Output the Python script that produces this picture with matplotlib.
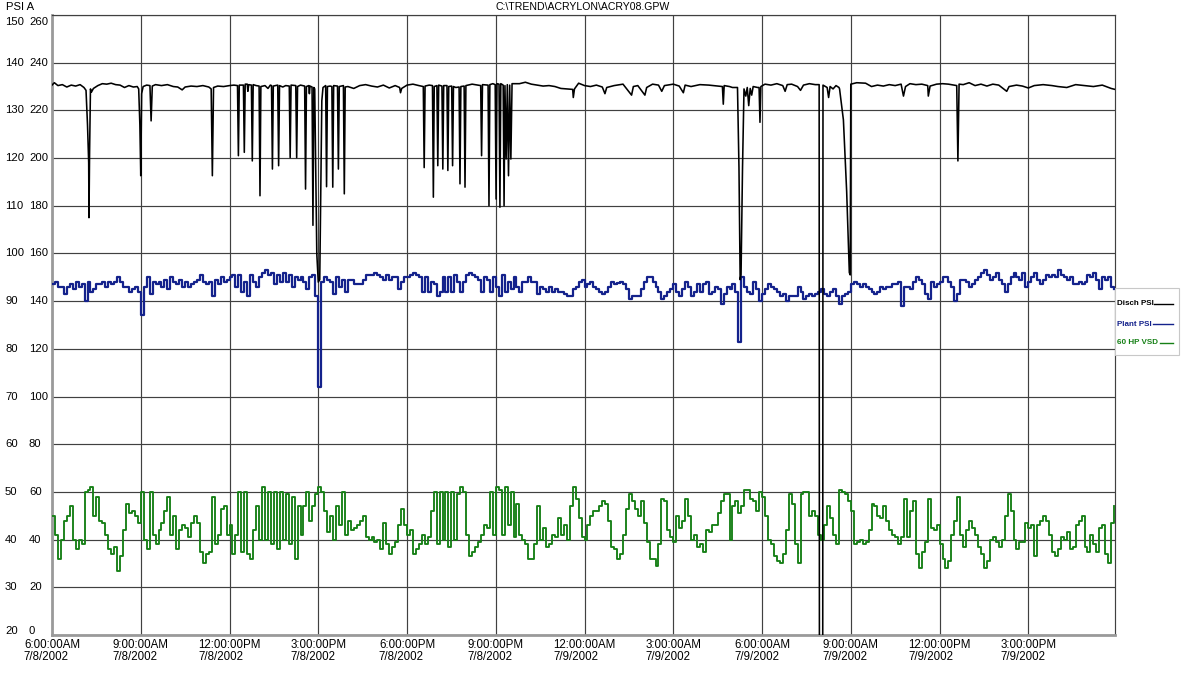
import matplotlib
matplotlib.use("Agg")
import matplotlib.pyplot as plt
import numpy as np
from matplotlib.lines import Line2D
from matplotlib.patches import Rectangle
from matplotlib.transforms import blended_transform_factory

plt.rcParams['font.family'] = ['Liberation Sans', 'DejaVu Sans']

# ---------------- data ----------------
SAMPLE_STEP_H = 0.1          # hours between samples (start 6:00 AM 7/8/2002)
SPAN_H = 35.93

vsd = [
    45, 41, 36, 40, 44, 45, 47, 40, 38, 40,
    39, 50, 50.5, 51, 45, 49, 44, 43.5, 41, 38,
    37, 38.5, 33.5, 36.5, 42, 47.5, 45.5, 46, 45, 43.5,
    50, 40, 38, 50, 41, 39, 42, 43.5, 46, 49,
    41, 45, 38, 42, 43, 42.5, 40.5, 43.5, 45, 43.5,
    37.5, 35, 37, 37.5, 49, 39, 41, 46.5, 47, 41,
    43, 37, 41, 50, 37.5, 50, 37, 36, 42, 47,
    40, 51, 40, 50, 39, 50, 38, 50, 40, 49.5,
    39, 49, 36, 47, 41, 47, 50, 44, 47, 49.5,
    51, 50, 46, 41.5, 45, 40, 47, 43, 50, 41,
    44, 42, 42.5, 43, 44, 45, 40.5, 40, 40.5, 39.5,
    40, 38, 43.5, 39, 37, 38.5, 39.5, 43, 46.5, 43,
    41, 42, 37, 38, 39, 41, 39, 40.5, 46, 50,
    39, 50, 40, 50, 38.5, 50, 40, 49.5, 51, 50,
    41, 36.5, 37.5, 38.5, 39.5, 41, 43, 42.5, 50, 41,
    51, 50.5, 41, 51, 43, 50, 40.5, 47.5, 41, 40,
    39, 36, 36, 39, 47, 40, 42.5, 38.5, 39, 41,
    40.5, 44.5, 41, 43, 40, 47, 51, 48.5, 44.5, 40.5,
    40, 43, 45, 46, 46, 47, 48, 47.5, 44, 38.5,
    38, 36, 37, 41, 46.5, 49.5, 48, 46.5, 45, 48,
    43.5, 39.5, 36, 36, 34.5, 39, 48.5, 48, 42, 40.5,
    39.5, 45, 42.5, 44, 48.5, 45, 40, 41, 38.5, 39,
    37.5, 42, 41.5, 43, 43, 45.5, 48, 49.5, 49.5, 40,
    47, 48, 45.5, 47, 50.5, 50.5, 48.5, 48, 46, 50,
    49, 45, 40, 39, 36.5, 35.5, 35, 37, 42, 49.5,
    47.5, 39, 35, 49.5, 50, 50, 45, 46, 45, 41,
    40, 43, 47, 44.5, 41, 39, 50.5, 50, 49.5, 48,
    46, 39, 39.5, 40, 39, 39.5, 42, 47.5, 47, 45,
    44.5, 47, 44, 42, 41, 40.5, 39, 40.5, 48.5, 40.5,
    46, 48, 37, 34, 37.5, 39.5, 48.5, 42.5, 42, 43,
    39, 36, 34, 35.5, 41, 44, 49, 41, 38.5, 42,
    44, 42.5, 41, 38.5, 37, 34, 35.5, 40, 40.5, 39.5,
    38.5, 40, 45, 49.5, 46, 40, 38, 39.5, 39.5, 43.5,
    42.5, 43, 36.5, 43, 44, 45, 44, 41, 37.5, 36.5,
    38, 40.5, 40, 41.5, 38, 38.5, 43, 44, 45, 38.5,
    37.5, 41, 39, 37.5, 42.5, 43, 37, 35, 43.5, 47,
]

plant = [
    93.5, 94, 93, 93, 91.5, 93, 93.5, 92.5, 94, 93,
    93.5, 90, 94, 92, 92.5, 93.5, 93.5, 94, 93, 94,
    93.5, 94, 95, 94, 93, 93, 92, 92.5, 93, 92,
    87, 93, 95, 91.5, 94, 93.5, 94, 93, 94.5, 92.5,
    95, 94, 93.5, 94.5, 93, 94, 93, 93.5, 94, 94.5,
    95.5, 94, 93.5, 94, 91, 94.5, 93.5, 95, 94, 94.5,
    95, 95.5, 93, 95.5, 92, 94, 91, 95.5, 94, 93,
    95, 96, 96.5, 95.5, 96, 93.5, 95.5, 94, 96, 94,
    95.5, 93, 95, 94.5, 95, 94, 92.5, 95, 95.5, 91,
    72, 94, 95, 94.5, 94, 91.5, 95, 93, 94.5, 92,
    94.5, 94.5, 93.5, 93.5, 93.5, 94.5, 95.5, 95.5, 95.5, 96,
    95.5, 95, 94.5, 95.5, 94.5, 95, 95, 92.5, 94, 95,
    95, 95.5, 96, 95.5, 95, 92, 95, 92, 94, 93.5,
    91, 92, 95, 92, 95, 92, 95.5, 94, 92, 94,
    95.5, 96, 95.5, 95, 94.5, 92, 95, 94.5, 92, 95,
    93, 91, 95.5, 92, 94, 92.5, 95, 93, 92, 94,
    94, 95, 94, 94, 91.5, 93, 92.5, 92, 93, 92,
    92.5, 92, 92, 91.5, 91, 91, 92.5, 93, 94, 94.5,
    93, 93.5, 94, 93, 92.5, 92, 91.5, 92, 93, 94,
    93.5, 93.8, 94, 93.5, 92.5, 90.5, 91, 91, 91, 92.5,
    94, 95, 95, 94, 93, 92, 90.5, 91, 92, 92.5,
    93.5, 92, 91, 92.5, 94, 93, 91, 92, 93.5, 92,
    93.5, 94, 91.5, 92, 93, 92.5, 89.5, 91.5, 93, 92.5,
    93.5, 92, 81.5, 95, 93, 92, 91.5, 94, 92.5, 90,
    91.5, 92.5, 93.5, 93, 92.5, 92, 91, 91.5, 90, 91,
    91, 91, 93, 92, 90.5, 91, 91.5, 91, 91.5, 92,
    92.5, 91.5, 91, 92, 92.5, 91, 89.5, 91, 91.5, 92,
    93.5, 94, 93.5, 93, 93.5, 93, 92.5, 92, 91.5, 92,
    93, 92.5, 93, 93, 93.5, 93.5, 94, 89, 93, 93,
    92.5, 94, 95, 94.5, 93.5, 91.5, 90.5, 94, 93, 93.5,
    94, 95, 95, 94, 93, 90, 91.5, 94.5, 94.5, 94,
    93, 93.5, 94.5, 95, 96, 96.5, 95.5, 94.5, 95, 96,
    94.5, 93.5, 92, 93.5, 95, 96, 95, 94.5, 96, 93,
    94, 95, 96, 94.5, 93.5, 94.5, 95.5, 95, 95.5, 95,
    96.5, 95.5, 95, 94.5, 95, 93.5, 93.5, 94, 93.5, 94,
    95.5, 95, 96, 94.5, 92.5, 95, 94.5, 95, 93, 92.5,
]

# Discharge pressure: (hours after 6:00 AM, PSI) including the dips
disch_pts = [
    (0.00, 135.3), (0.08, 135.8), (0.2, 135.2), (0.35, 135.4), (0.5, 134.9), (0.65, 135.3),
    (0.8, 135.1), (0.95, 135.4), (1.08, 134.8),
    (1.15, 134.2), (1.20, 127.0), (1.24, 119.0), (1.25, 107.5), (1.27, 121.0), (1.30, 134.5),
    (1.33, 133.8), (1.4, 134.6), (1.55, 135.2), (1.7, 135.6), (1.85, 135.5), (2.0, 135.7),
    (2.15, 135.4), (2.3, 135.3), (2.45, 134.8), (2.6, 135.2), (2.75, 134.9), (2.88, 135.0),
    (2.93, 134.5), (2.97, 127.0), (3.00, 116.3), (3.03, 133.5), (3.08, 135.0), (3.2, 135.3),
    (3.31, 135.2), (3.35, 127.8), (3.39, 135.1),
    (3.5, 135.4), (3.7, 135.2), (3.9, 135.4), (4.1, 135.0), (4.25, 134.9), (4.4, 134.3),
    (4.5, 134.9), (4.7, 135.1), (4.9, 135.0), (5.1, 135.2), (5.3, 134.9),
    (5.38, 134.5), (5.42, 116.3), (5.46, 134.8),
    (5.6, 135.1), (5.8, 135.0), (6.0, 135.2), (6.15, 135.3),
    (6.27, 135.2), (6.30, 120.5), (6.33, 135.3),
    (6.47, 135.3), (6.50, 121.2), (6.53, 135.5),
    (6.6, 135.5), (6.62, 134.0), (6.65, 135.4),
    (6.74, 135.3), (6.77, 119.4), (6.80, 135.4), (6.9, 135.2),
    (7.0, 135.1), (7.03, 112.1), (7.06, 135.0),
    (7.2, 135.2), (7.3, 134.6), (7.38, 135.3),
    (7.42, 135.2), (7.45, 117.7), (7.48, 135.1),
    (7.63, 135.3), (7.66, 118.4), (7.69, 135.2),
    (7.8, 134.9), (7.9, 135.2),
    (8.02, 135.1), (8.05, 120.1), (8.08, 135.3),
    (8.24, 135.2), (8.27, 120.1), (8.30, 135.0), (8.4, 135.3),
    (8.54, 135.1), (8.57, 113.5), (8.60, 135.0),
    (8.68, 135.2), (8.70, 133.5), (8.72, 135.1),
    (8.79, 134.9), (8.82, 105.9), (8.85, 134.8),
    (8.88, 134.5), (8.95, 100.0), (9.0, 94.0), (9.05, 94.5), (9.12, 132.0), (9.16, 134.8),
    (9.25, 135.2), (9.28, 114.0), (9.31, 135.0), (9.4, 135.1),
    (9.46, 135.0), (9.49, 113.9), (9.52, 135.2),
    (9.65, 135.1), (9.68, 117.7), (9.71, 135.0),
    (9.85, 135.2), (9.88, 112.5), (9.91, 134.9),
    (10.0, 135.0), (10.2, 134.6), (10.4, 135.2), (10.6, 135.4), (10.8, 135.1), (11.0, 134.9),
    (11.2, 135.3), (11.4, 134.7), (11.6, 135.2), (11.75, 134.8), (11.78, 133.7), (11.82, 134.6),
    (12.0, 135.3), (12.2, 135.5), (12.4, 135.2),
    (12.55, 135.0), (12.58, 118.0), (12.61, 135.1), (12.75, 135.3),
    (12.86, 135.2), (12.89, 111.8), (12.92, 135.0),
    (13.01, 135.2), (13.04, 118.4), (13.07, 135.3),
    (13.18, 135.1), (13.21, 117.7), (13.24, 135.2),
    (13.35, 135.2), (13.38, 117.4), (13.41, 135.0),
    (13.51, 135.1), (13.54, 118.4), (13.57, 135.0), (13.65, 134.8),
    (13.76, 134.9), (13.79, 114.6), (13.82, 135.0),
    (13.93, 135.1), (13.96, 113.9), (13.99, 135.2),
    (14.2, 135.5), (14.4, 135.3),
    (14.49, 135.2), (14.52, 120.5), (14.55, 135.4),
    (14.74, 135.3), (14.77, 110.0), (14.80, 135.4), (14.9, 135.6),
    (14.98, 135.4), (15.01, 111.4), (15.04, 135.6),
    (15.11, 135.5), (15.14, 109.7), (15.17, 135.6),
    (15.25, 135.3), (15.28, 110.0), (15.31, 135.2), (15.35, 119.8), (15.39, 135.4),
    (15.43, 116.3), (15.47, 135.3), (15.51, 119.8), (15.55, 135.6),
    (15.8, 135.6), (16.0, 135.9), (16.2, 135.5), (16.4, 135.3), (16.6, 135.1), (16.8, 135.2),
    (17.0, 135.0), (17.2, 134.6), (17.4, 134.5), (17.6, 134.4), (17.62, 132.7), (17.66, 134.5),
    (17.8, 135.7), (18.0, 135.2), (18.2, 135.0), (18.4, 135.3), (18.6, 134.9), (18.69, 133.5),
    (18.75, 134.8), (19.0, 135.2), (19.3, 135.5), (19.59, 133.2), (19.65, 135.0), (19.8, 135.2),
    (20.04, 133.2), (20.1, 134.8), (20.3, 135.5), (20.5, 135.3), (20.61, 134.0), (20.7, 135.2),
    (21.0, 135.5), (21.2, 135.1), (21.34, 133.7), (21.4, 135.3), (21.6, 135.0), (21.9, 135.4),
    (22.2, 135.3), (22.5, 135.1), (22.66, 135.0), (22.69, 131.3), (22.72, 135.2), (22.9, 135.0),
    (23.0, 134.8),
    (23.17, 134.8), (23.22, 118.0), (23.26, 94.5), (23.29, 95.5), (23.34, 118.0), (23.39, 134.5),
    (23.45, 133.0), (23.5, 134.8), (23.55, 131.0), (23.6, 134.6), (23.65, 133.2), (23.7, 135.0),
    (23.85, 134.8), (23.90, 134.8), (23.93, 127.5), (23.96, 135.0),
    (24.1, 135.5), (24.3, 135.3), (24.5, 135.6), (24.7, 135.2), (24.78, 134.0), (24.85, 135.4),
    (25.0, 135.5), (25.2, 135.0), (25.3, 134.2), (25.4, 135.3), (25.6, 135.6), (25.8, 135.4),
    (25.93, 135.4), (25.94, 0.0), (26.05, 0.0), (26.06, 135.3),
    (26.2, 134.8), (26.25, 132.7), (26.3, 135.0), (26.4, 134.5), (26.5, 135.2), (26.6, 134.8),
    (26.62, 134.5), (26.75, 128.0), (26.86, 113.0), (26.95, 96.0), (26.98, 95.5), (27.0, 135.5),
    (27.2, 135.8), (27.5, 135.7), (27.7, 135.0), (27.9, 135.3), (28.1, 135.1), (28.3, 135.4),
    (28.5, 135.2), (28.7, 135.5), (28.78, 133.0), (28.85, 135.0), (29.0, 135.6), (29.2, 135.4),
    (29.4, 135.5), (29.6, 135.2), (29.62, 133.0), (29.68, 135.1), (29.9, 135.5), (30.1, 135.6),
    (30.3, 135.5), (30.5, 135.3),
    (30.58, 135.2), (30.62, 119.4), (30.66, 135.5),
    (30.8, 135.4), (31.0, 135.8), (31.2, 135.2), (31.4, 135.5), (31.6, 135.1), (31.8, 135.5),
    (32.0, 135.3), (32.27, 134.0), (32.35, 135.0), (32.6, 135.3), (32.8, 135.1), (33.0, 134.7),
    (33.2, 135.2), (33.5, 135.4), (33.8, 135.2), (34.0, 135.0), (34.3, 134.8), (34.6, 135.4),
    (34.9, 135.2), (35.2, 135.0), (35.5, 135.3), (35.8, 134.6), (35.93, 134.4),
]

tick_hours = [0, 3, 6, 9, 12, 15, 18, 21, 24, 27, 30, 33]
tick_times = ['6:00:00AM', '9:00:00AM', '12:00:00PM', '3:00:00PM', '6:00:00PM', '9:00:00PM',
              '12:00:00AM', '3:00:00AM', '6:00:00AM', '9:00:00AM', '12:00:00PM', '3:00:00PM']
tick_dates = ['7/8/2002'] * 6 + ['7/9/2002'] * 6

left_ticks = [150, 140, 130, 120, 110, 100, 90, 80, 70, 60, 50, 40, 30, 20]
right_ticks = [260, 240, 220, 200, 180, 160, 140, 120, 100, 80, 60, 40, 20, 0]

series_names = ['Disch PSI', 'Plant PSI', '60 HP VSD']
series_colors = ['#000000', '#14228c', '#168016']

# ---------------- figure ----------------
W, H = 1181, 675
fig = plt.figure(figsize=(W / 100, H / 100), dpi=100)
fig.patch.set_facecolor('white')
ax = fig.add_axes([52 / W, 40 / H, 1063 / W, 620 / H])

t_vsd = np.arange(len(vsd)) * SAMPLE_STEP_H
t_plant = np.arange(len(plant)) * SAMPLE_STEP_H
d_h = [p[0] for p in disch_pts]
d_v = [p[1] for p in disch_pts]

ax.plot(t_vsd, vsd, color=series_colors[2], lw=1.35, drawstyle='steps-post', zorder=3)
ax.plot(t_plant, plant, color=series_colors[1], lw=1.6, drawstyle='steps-post', zorder=4)
ax.plot(d_h, d_v, color=series_colors[0], lw=1.15, zorder=5)

ax.set_xlim(0, SPAN_H)
ax.set_ylim(20, 150)

grid_c = '#404040'
ax.set_yticks(left_ticks)
ax.set_yticklabels([])
ax.tick_params(axis='y', length=0)
ax.set_xticks(tick_hours)
ax.set_xticklabels([f"{a}\n{b}" for a, b in zip(tick_times, tick_dates)],
                   fontsize=8.3, ha='center', multialignment='left', linespacing=1.0)
ax.tick_params(axis='x', length=0, pad=3)
ax.grid(True, color=grid_c, lw=0.85, zorder=1)
ax.set_axisbelow(True)

for s in ['left', 'bottom']:
    ax.spines[s].set_color('#9a9a9a')
    ax.spines[s].set_linewidth(2.0)
for s in ['top', 'right']:
    ax.spines[s].set_color(grid_c)
    ax.spines[s].set_linewidth(0.85)

# two-column y labels
tr = blended_transform_factory(fig.transFigure, ax.transData)
for lv, rv in zip(left_ticks, right_ticks):
    if lv == left_ticks[0]:
        va, y = 'top', lv - 0.4
    elif lv == left_ticks[-1]:
        va, y = 'bottom', lv - 0.2
    else:
        va, y = 'center', lv
    fig.text(5 / W, y, str(lv), transform=tr, ha='left', va=va, fontsize=8.1)
    fig.text(29 / W, y, str(rv), transform=tr, ha='left', va=va, fontsize=8.1)

fig.text(6 / W, 1 - 2 / H, 'PSI A', ha='left', va='top', fontsize=8.1)
fig.text(583 / W, 1 - 2 / H, 'C:\\TREND\\ACRYLON\\ACRY08.GPW', ha='center', va='top', fontsize=7.6)

# legend box
fig.patches.append(Rectangle((1115 / W, 1 - 355 / H), 64 / W, 67 / H, transform=fig.transFigure,
                             facecolor='white', edgecolor='#c8c8c8', lw=0.8, zorder=0))
leg_y = [304, 324, 343]
leg_line_start = [1154, 1153, 1160]
for name, col, y, x0 in zip(series_names, series_colors, leg_y, leg_line_start):
    fig.text(1117 / W, 1 - y / H, name, ha='left', va='center', fontsize=5.8,
             fontweight='bold', color=col)
    fig.lines.append(Line2D([x0 / W, 1173 / W], [1 - y / H, 1 - y / H], transform=fig.transFigure,
                            color=col, lw=1.0))

fig.savefig('out.png', dpi=100)
